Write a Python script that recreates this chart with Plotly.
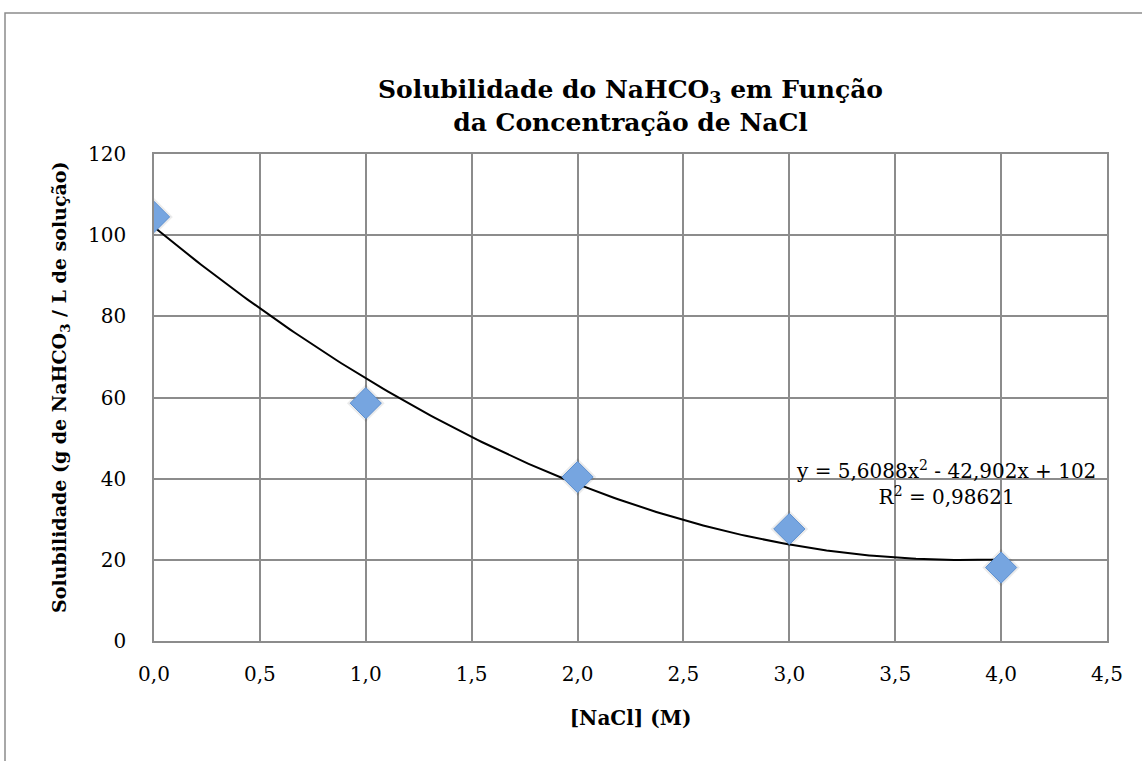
import numpy as np
import plotly.graph_objects as go

# Data
nacl = [0.0, 1.0, 2.0, 3.0, 4.0]
solubilidade = [104.5, 58.6, 40.4, 27.6, 18.1]
# Trendline coefficients as displayed (y = a x^2 + b x + c)
coef_a, coef_b, coef_c = 5.6088, -42.902, 102.0
r2_text = "0,98621"
x_ticks = [0, 0.5, 1, 1.5, 2, 2.5, 3, 3.5, 4, 4.5]
x_tick_labels = ["0,0", "0,5", "1,0", "1,5", "2,0", "2,5", "3,0", "3,5", "4,0", "4,5"]
y_ticks = [0, 20, 40, 60, 80, 100, 120]

W, H = 1142, 761
ml, mr, mt, mb = 154, 35, 154, 120
pw, ph = W - ml - mr, H - mt - mb

def px2paper_x(px):
    return (px - ml) / pw

def px2paper_y(py):
    return (H - mb - py) / ph

FONT = "DejaVu Serif"

xt = np.linspace(min(nacl), max(nacl), 200)
yt = coef_a * xt**2 + coef_b * xt + coef_c

fig = go.Figure()
fig.add_trace(go.Scatter(x=xt, y=yt, mode="lines",
                         line=dict(color="black", width=2), hoverinfo="skip",
                         showlegend=False))
# soft shadow
fig.add_trace(go.Scatter(x=nacl, y=solubilidade, mode="markers",
                         marker=dict(symbol="diamond", size=29, color="rgba(0,0,0,0.08)",
                                     line=dict(width=0)),
                         showlegend=False, hoverinfo="skip"))
fig.add_trace(go.Scatter(x=nacl, y=solubilidade, mode="markers",
                         marker=dict(symbol="diamond", size=24, color="#76a5e0",
                                     line=dict(color="#5b8fd0", width=1)),
                         showlegend=False))

fig.add_annotation(x=3.74, y=39.0, xref="x", yref="y",
                   text=f"y = {str(coef_a).replace('.', ',')}x<sup>2</sup> - {str(-coef_b).replace('.', ',')}x + {int(coef_c)}<br>R<sup>2</sup> = {r2_text}",
                   showarrow=False, align="center",
                   font=dict(family=FONT, size=20, color="black"))

# Y axis title as rotated annotation
fig.add_annotation(x=px2paper_x(60), y=px2paper_y(388), xref="paper", yref="paper",
                   text="<b>Solubilidade (g de NaHCO<sub>3</sub> / L de solução)</b>",
                   textangle=-90, showarrow=False, xanchor="center", yanchor="middle",
                   font=dict(family=FONT, size=19, color="black"))

fig.add_shape(type="rect", xref="paper", yref="paper",
              x0=px2paper_x(5), x1=px2paper_x(1160), y0=px2paper_y(13), y1=px2paper_y(780),
              line=dict(color="#8c8c8c", width=1.5), layer="below")

fig.update_layout(
    width=W, height=H,
    margin=dict(l=ml, r=mr, t=mt, b=mb, autoexpand=False),
    paper_bgcolor="white", plot_bgcolor="white",
    font=dict(family=FONT, size=20, color="black"),
    title=dict(text="<b>Solubilidade do NaHCO<sub>3</sub> em Função<br>da Concentração de NaCl</b>",
               x=0.5, xref="paper", xanchor="center", y=1 - 98/H, yanchor="middle",
               font=dict(family=FONT, size=25, color="black")),
    xaxis=dict(range=[0, 4.5], tickvals=x_ticks, ticktext=x_tick_labels,
               showgrid=True, gridcolor="#8c8c8c", gridwidth=1.5,
               showline=True, linecolor="#8c8c8c", linewidth=1.5, mirror=True,
               zeroline=False, ticks="", ticklen=0, ticklabelstandoff=14,
               tickfont=dict(family=FONT, size=20),
               title=dict(text="<b>[NaCl] (M)</b>", font=dict(family=FONT, size=20), standoff=26)),
    yaxis=dict(range=[0, 120], tickvals=y_ticks,
               showgrid=True, gridcolor="#8c8c8c", gridwidth=1.5,
               showline=True, linecolor="#8c8c8c", linewidth=1.5, mirror=True,
               zeroline=False, ticks="", ticklen=0, ticklabelstandoff=22,
               tickfont=dict(family=FONT, size=20)),
)

fig.write_html("out.html", config={"displayModeBar": False},
               post_script="document.body.style.margin='0';")
